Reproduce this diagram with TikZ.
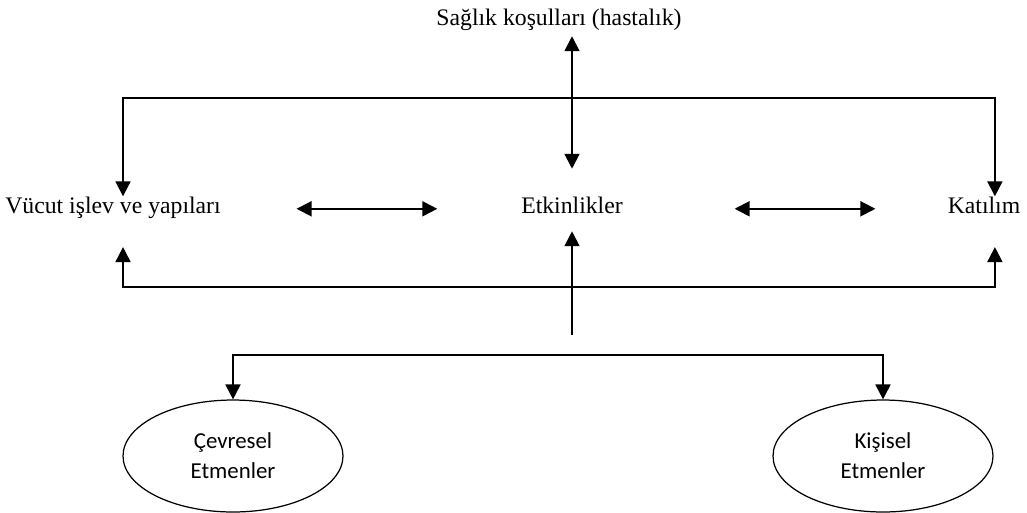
\documentclass[tikz,border=0pt]{standalone}
\usepackage{fontspec}
\setmainfont{Liberation Serif}
\newfontfamily\calibri{Carlito}
\usetikzlibrary{arrows.meta,shapes.geometric}

\begin{document}
\begin{tikzpicture}[x=0.02cm,y=-0.02cm,
  lbl/.style={font=\fontsize{13.5}{16}\selectfont,inner sep=0pt,text height=0.7em,text depth=0.22em,anchor=base},
  etmen/.style={draw,ellipse,line width=0.7pt,minimum width=4.4cm,minimum height=2.24cm,align=center,inner sep=0pt,font=\calibri\fontsize{13}{17}\selectfont},
  tip/.style={line width=1.1pt,-{Triangle[length=8.5pt,width=8.5pt]}},
  dbl/.style={line width=1.1pt,{Triangle[length=8.5pt,width=8.5pt]}-{Triangle[length=8.5pt,width=8.5pt]}}]
\useasboundingbox (0,0) rectangle (1027,512);

\node[lbl] (saglik) at (559,25) {Sağlık koşulları (hastalık)};
\node[lbl] (vucut) at (113,213) {Vücut işlev ve yapıları};
\node[lbl] (etkin) at (572,213) {Etkinlikler};
\node[lbl] (katilim) at (984,213) {Katılım};
\node[etmen] (cevre) at (233,456) {Çevresel\\Etmenler};
\node[etmen] (kisi) at (883,456) {Kişisel\\Etmenler};

\coordinate (topbar) at (572,98);
\coordinate (lowbar) at (572,287);
\coordinate (envbase) at (572,335);
\coordinate (split) at (572,355);

% saglik <-> etkinlikler
\draw[dbl,shorten <=4pt,shorten >=18pt] (etkin.north |- saglik.south) -- (etkin.north);
% yatay oklar
\draw[dbl,shorten <=43pt,shorten >=47.6pt] (vucut.east) -- (etkin.west);
\draw[dbl,shorten <=63.5pt,shorten >=41pt] (etkin.east) -- (katilim.west);
% ust ve alt donus
\draw[dbl,shorten <=2.3pt,shorten >=2.3pt] ([xshift=5.7pt]vucut.north) |- (topbar) -| ([xshift=6.2pt]katilim.north);
\draw[dbl,shorten <=17pt,shorten >=17pt] ([xshift=5.7pt]vucut.south) |- (lowbar) -| ([xshift=6.2pt]katilim.south);
% etmenler
\draw[tip,shorten >=8pt] (envbase) -- (etkin.south);
\draw[dbl] (cevre.north) |- (split) -| (kisi.north);
\end{tikzpicture}
\end{document}
